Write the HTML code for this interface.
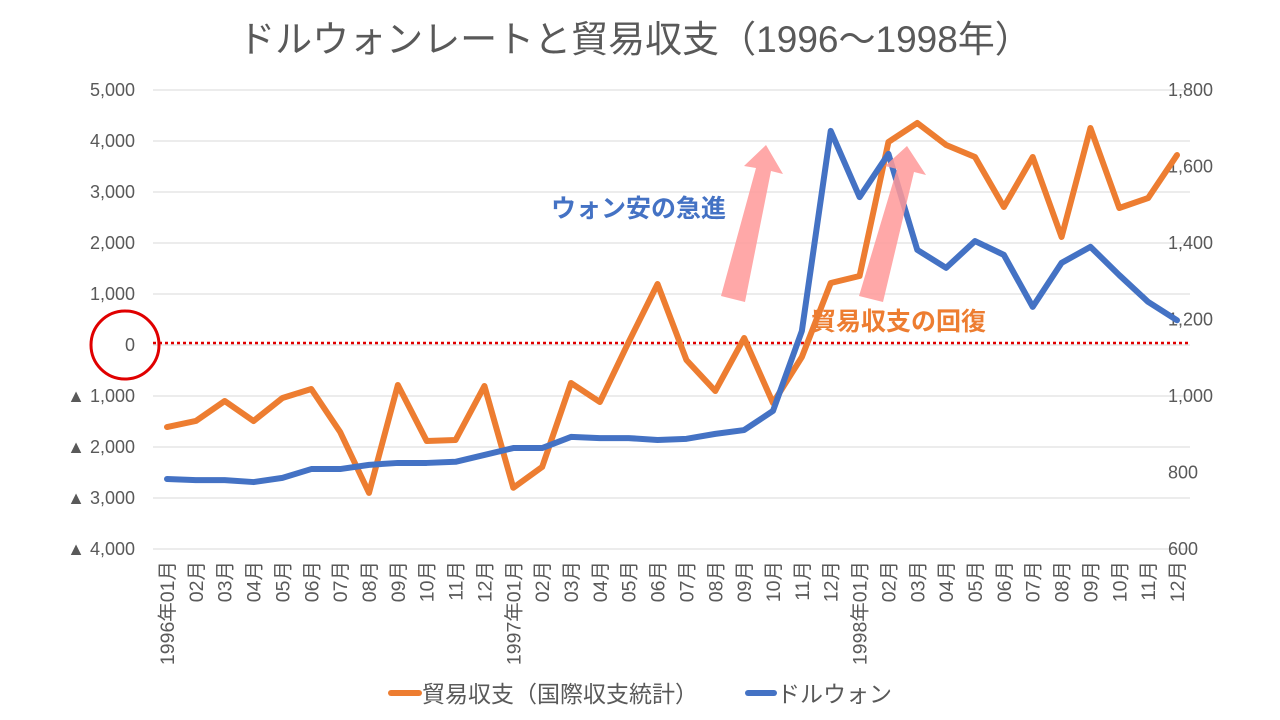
<!DOCTYPE html>
<html><head><meta charset="utf-8"><style>
body{margin:0;background:#fff;}
svg{display:block;font-family:"Liberation Sans","Noto Sans CJK JP",sans-serif;}
</style></head><body>
<svg id="c" width="1280" height="720">
<text x="635" y="52" text-anchor="middle" font-size="37" fill="#595959">ドルウォンレートと貿易収支（1996～1998年）</text>
<g id="grid"></g><g id="ticks"></g><g id="xl"></g>
<line x1="153" x2="1190" y1="343" y2="343" stroke="#e00000" stroke-width="2.5" stroke-dasharray="3,3"/>
<circle cx="125" cy="345" r="34" fill="none" stroke="#e00000" stroke-width="3"/>
<g id="series"></g>
<polygon points="721,296 745,302 771,171 783,174 766,145 744,166 756,168" fill="#ff9999" opacity="0.85"/>
<polygon points="859,296 883,302 914,172 926,175 907,146 885,166 897,169" fill="#ff9999" opacity="0.85"/>
<text x="551" y="217" font-size="25" font-weight="bold" fill="#4472c4">ウォン安の急進</text>
<text x="811" y="330" font-size="25" font-weight="bold" fill="#ed7d31">貿易収支の回復</text>
<g>
<line x1="391" x2="419" y1="693" y2="693" stroke="#ed7d31" stroke-width="6" stroke-linecap="round"/>
<text x="422" y="702" font-size="23" fill="#595959">貿易収支（国際収支統計）</text>
<line x1="748" x2="774" y1="693" y2="693" stroke="#4472c4" stroke-width="6" stroke-linecap="round"/>
<text x="777" y="702" font-size="23" fill="#595959">ドルウォン</text>
</g>
</svg>
<script>
const months=["1996年01月","02月","03月","04月","05月","06月","07月","08月","09月","10月","11月","12月","1997年01月","02月","03月","04月","05月","06月","07月","08月","09月","10月","11月","12月","1998年01月","02月","03月","04月","05月","06月","07月","08月","09月","10月","11月","12月"];
const tradeBalance=[-1608,-1490,-1098,-1490,-1039,-863,-1706,-2900,-784,-1882,-1863,-804,-2800,-2392,-745,-1118,60,1196,-294,-902,137,-1137,-235,1216,1353,3980,4353,3922,3686,2706,3686,2118,4255,2686,2882,3725];
const wonRate=[783,780,780,775,786,809,809,820,825,825,828,846,864,864,893,890,890,885,888,901,911,961,1170,1693,1520,1633,1382,1335,1405,1369,1233,1348,1390,1316,1246,1198];
const leftTicks=[5000,4000,3000,2000,1000,0,-1000,-2000,-3000,-4000];
const leftLabels=["5,000","4,000","3,000","2,000","1,000","0","▲ 1,000","▲ 2,000","▲ 3,000","▲ 4,000"];
const rightTicks=[1800,1600,1400,1200,1000,800,600];
const rightLabels=["1,800","1,600","1,400","1,200","1,000","800","600"];
const NS="http://www.w3.org/2000/svg";
const yL=v=>90+(5000-v)/9000*459;
const yR=v=>90+(1800-v)/1200*459;
const xS=i=>167+i*(1177-167)/35;
function mk(tag,attrs,parent,txt){const e=document.createElementNS(NS,tag);for(const k in attrs)e.setAttribute(k,attrs[k]);if(txt!==undefined)e.textContent=txt;document.getElementById(parent).appendChild(e);return e;}
leftTicks.forEach((v,i)=>{
  const g=mk('line',{x1:153,x2:1190,y1:yL(v),y2:yL(v),stroke:'#d9d9d9','stroke-width':1},'grid');
  
  
  const t=mk('text',{x:135,y:yL(v)+6,'text-anchor':'end','font-size':18,fill:'#595959'},'ticks',leftLabels[i]);
  
  
});
rightTicks.forEach((v,i)=>{
  const t=mk('text',{x:1168,y:yR(v)+6,'font-size':18,fill:'#595959'},'ticks',rightLabels[i]);
  
  
});
months.forEach((m,i)=>{
  const x=xS(i);
  const t=mk('text',{x:0,y:0,transform:`translate(${x+7},561) rotate(-90)`,'text-anchor':'end','font-size':19.5,fill:'#595959'},'xl',m);
  
  
});
const p1=mk('polyline',{points:tradeBalance.map((v,i)=>xS(i)+','+yL(v)).join(' '),fill:'none',stroke:'#ed7d31','stroke-width':6,'stroke-linejoin':'round','stroke-linecap':'round'},'series');


const p2=mk('polyline',{points:wonRate.map((v,i)=>xS(i)+','+yR(v)).join(' '),fill:'none',stroke:'#4472c4','stroke-width':6,'stroke-linejoin':'round','stroke-linecap':'round'},'series');


</script>
</body></html>
